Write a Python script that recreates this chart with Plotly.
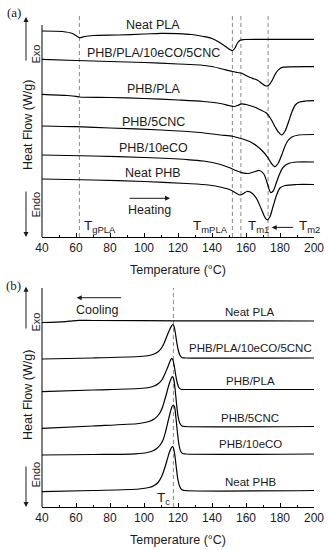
import plotly.graph_objects as go

# ---------------- DATA (a) heating, heat flow in arbitrary offset units ----------------
t_pla_h = [40, 52, 58, 62, 65, 70, 85, 100, 110, 120, 128, 135, 140, 144, 148, 150.5, 152, 153.5, 155, 156.5, 159, 170, 200]
v_pla_h = [206, 205.5, 203.5, 199.3, 200.5, 201.5, 202, 203, 203.7, 203.4, 202.5, 200.5, 198.5, 195, 190.5, 187.5, 186.3, 189, 194, 196.7, 197.5, 197.7, 197.7]

t_blend_h = [40, 60, 80, 100, 120, 133, 140, 146, 152, 155, 157.5, 160, 162.5, 165, 167, 169, 171, 172.2, 173.5, 175, 176.5, 178, 180, 182, 186, 200]
v_blend_h = [177.7, 176.5, 175.5, 174.5, 173, 172, 170.5, 168, 165.5, 164.5, 163.7, 161.5, 159.5, 158, 156.5, 154, 151.5, 151, 152, 155.5, 160.5, 165, 168.5, 169.8, 170.2, 170.3]

t_phbpla_h = [40, 55, 60, 62, 80, 100, 120, 135, 145, 150, 153, 155, 157.5, 160, 164, 168, 172, 175, 177, 179, 181, 183, 185, 187, 189, 191.5, 195, 200]
v_phbpla_h = [142.7, 141.5, 140.7, 140, 139.5, 138.5, 137, 135.5, 133.5, 131.5, 130.5, 131.5, 133.2, 132.5, 130.5, 127.5, 124, 117, 110.5, 105, 102, 106, 115, 125, 132, 135, 136, 136.3]

t_cnc_h = [40, 60, 80, 110, 133, 145, 152.5, 158, 162.4, 166, 170, 173, 175, 177, 179, 181, 182.5, 184.5, 187, 191, 200]
v_cnc_h = [111, 110.3, 109, 107, 104.5, 102, 100.5, 98, 95.3, 91.5, 85.5, 79, 73.5, 70.3, 74, 82, 89, 96, 100, 102, 102.5]

t_eco_h = [40, 70, 100, 125, 135, 145, 150, 154, 158, 161.3, 164.5, 168, 170.5, 172.5, 174.5, 176, 178, 180, 182, 185, 190, 200]
v_eco_h = [82, 81, 79.5, 77.5, 76, 72.5, 69.5, 66.5, 64.2, 63.5, 65, 66.5, 63, 54, 44.5, 46, 55, 64, 70, 73.5, 75, 75]

t_phb_h = [40, 70, 100, 125, 138, 146, 151, 154, 156.8, 158.5, 160.5, 163, 166, 169, 171, 172.5, 174, 176, 178, 180, 183, 190, 200]
v_phb_h = [58, 57, 55.5, 53.5, 52, 49.5, 47, 44, 42, 43.5, 45.5, 44.5, 39, 28, 20, 17, 20, 31, 42, 49, 51.5, 52.5, 52.5]

# ---------------- DATA (b) cooling ----------------
t_pla_c = [40, 48, 54, 58, 62, 70, 120, 200]
v_pla_c = [184.5, 184.8, 185.4, 186.2, 186.6, 186.5, 186.2, 186]

t_blend_c = [40, 70, 97, 103, 106, 108.5, 110.5, 112, 113.5, 115, 116.2, 116.9, 117.6, 118.4, 119.3, 120.2, 121.2, 122.5, 124.5, 200]
v_blend_c = [148, 149, 150.5, 151.5, 153, 155.5, 159.5, 164.5, 171, 177, 181.2, 182.5, 181, 174.5, 164.5, 156.5, 151.5, 149.3, 149, 149]

t_phbpla_c = [40, 70, 97, 103, 106, 108.5, 110.5, 112, 113.5, 114.8, 115.7, 116.3, 117, 117.8, 118.7, 119.6, 120.5, 121.8, 124, 200]
v_phbpla_c = [115.3, 117, 118.5, 119.5, 121, 123.5, 127, 132, 138, 143.5, 147.2, 148.7, 147, 141, 131.5, 124, 119.5, 117.7, 117.5, 117.5]

t_cnc_c = [40, 70, 97, 103, 106, 108.5, 110.5, 112, 113.5, 114.8, 116, 116.7, 117.4, 118.2, 119.1, 120, 121, 122.3, 124, 200]
v_cnc_c = [78.7, 81, 83.5, 85.5, 88, 92, 98, 106, 115, 123, 128.5, 130.3, 128.5, 119, 104, 91, 84, 81, 80.5, 80.5]

t_eco_c = [40, 70, 95, 102, 105, 107.5, 109.5, 111.3, 112.8, 114.2, 115.5, 116.5, 117.3, 118, 118.8, 119.7, 120.6, 121.5, 122.7, 124.5, 200]
v_eco_c = [52, 52.5, 53.2, 54.5, 56, 58.5, 62, 67.5, 76, 86, 95, 100.5, 102, 100, 89, 74, 62, 56, 53.5, 53, 53]

t_phb_c = [40, 70, 97, 103, 106, 108.5, 110.5, 112, 113.5, 114.8, 116, 116.7, 117.4, 118.2, 119.1, 120, 121, 122.3, 124, 200]
v_phb_c = [15.3, 16.5, 18, 19.5, 21.5, 25, 31, 38, 46.5, 54, 59, 60.3, 58.5, 51, 38, 27, 20.5, 17.2, 16.5, 16.5]

series_names = ["Neat PLA", "PHB/PLA/10eCO/5CNC", "PHB/PLA", "PHB/5CNC", "PHB/10eCO", "Neat PHB"]
heat_series = [(t_pla_h, v_pla_h), (t_blend_h, v_blend_h), (t_phbpla_h, v_phbpla_h),
               (t_cnc_h, v_cnc_h), (t_eco_h, v_eco_h), (t_phb_h, v_phb_h)]
cool_series = [(t_pla_c, v_pla_c), (t_blend_c, v_blend_c), (t_phbpla_c, v_phbpla_c),
               (t_cnc_c, v_cnc_c), (t_eco_c, v_eco_c), (t_phb_c, v_phb_c)]

heat_label_y = [212, 183.7, 147.7, 115.3, 89.3, 64.3]
cool_label_y = [194.7, 158.7, 126.3, 88.7, 63, 25.3]

heat_dashed = [62, 152, 157, 173]
cool_dashed = [117.3]

x_ticks = [40, 60, 80, 100, 120, 140, 160, 180, 200]

# ---------------- FIGURE ----------------
FONT = "Liberation Sans, Arial, sans-serif"
TXT = "#1a1a1a"
fig = go.Figure()

for (t, v), n in zip(heat_series, series_names):
    fig.add_trace(go.Scatter(x=t, y=v, mode="lines", name=n, xaxis="x", yaxis="y",
                             line=dict(color="black", width=1.2, shape="spline", smoothing=0.8),
                             showlegend=False, hoverinfo="skip"))
for (t, v), n in zip(cool_series, series_names):
    fig.add_trace(go.Scatter(x=t, y=v, mode="lines", name=n, xaxis="x2", yaxis="y2",
                             line=dict(color="black", width=1.2, shape="spline", smoothing=0.8),
                             showlegend=False, hoverinfo="skip"))

shapes = []
for xv in heat_dashed:
    shapes.append(dict(type="line", xref="x", yref="y", x0=xv, x1=xv, y0=0, y1=222,
                       line=dict(color="#8a8a8a", width=1, dash="4px,3px"), layer="below"))
for xv in cool_dashed:
    shapes.append(dict(type="line", xref="x2", yref="y2", x0=xv, x1=xv, y0=0, y1=219,
                       line=dict(color="#8a8a8a", width=1, dash="4px,3px"), layer="below"))
# left axis lines
shapes.append(dict(type="line", xref="x domain", yref="y", x0=0, x1=0, y0=0, y1=212,
                   line=dict(color="black", width=1)))
shapes.append(dict(type="line", xref="x2 domain", yref="y2", x0=0, x1=0, y0=0, y1=219,
                   line=dict(color="black", width=1)))

C = dict(xanchor="center", yanchor="middle")
ann = []
for n, yv in zip(series_names, heat_label_y):
    ann.append(dict(x=105.3, y=yv, xref="x", yref="y", text=n, showarrow=False, **C,
                    font=dict(family=FONT, size=12.5, color=TXT)))
for n, yv in zip(series_names, cool_label_y):
    ann.append(dict(x=162.4, y=yv, xref="x2", yref="y2", text=n, showarrow=False, **C,
                    font=dict(family=FONT, size=11.5, color=TXT)))

# heating / cooling arrows and labels
ann.append(dict(x=115.3, y=38.7, xref="x", yref="y", ax=-42, ay=0, text="", showarrow=True,
                arrowhead=2, arrowsize=1, arrowwidth=1, arrowcolor=TXT))
ann.append(dict(x=103, y=27, xref="x", yref="y", text="Heating", showarrow=False, **C,
                font=dict(family=FONT, size=12.5, color=TXT)))
ann.append(dict(x=60.4, y=209.3, xref="x2", yref="y2", ax=46, ay=0, text="", showarrow=True,
                arrowhead=2, arrowsize=1, arrowwidth=1, arrowcolor=TXT))
ann.append(dict(x=72.6, y=197, xref="x2", yref="y2", text="Cooling", showarrow=False, **C,
                font=dict(family=FONT, size=12.5, color=TXT)))

# transition labels
tf = dict(family=FONT, size=13.5, color=TXT)
ann.append(dict(x=63.8, y=10.3, xref="x", yref="y", text="T<sub>gPLA</sub>", showarrow=False,
                xanchor="left", yanchor="middle", font=tf))
ann.append(dict(x=150.8, y=10.3, xref="x", yref="y", text="T<sub>mPLA</sub>", showarrow=False,
                xanchor="right", yanchor="middle", font=tf))
ann.append(dict(x=160.2, y=10.3, xref="x", yref="y", text="T<sub>m1</sub>", showarrow=False,
                xanchor="left", yanchor="middle", font=tf))
ann.append(dict(x=175.1, y=9.6, xref="x", yref="y", ax=23, ay=0, text="", showarrow=True,
                arrowhead=2, arrowsize=1, arrowwidth=1, arrowcolor=TXT))
ann.append(dict(x=190.2, y=10.3, xref="x", yref="y", text="T<sub>m2</sub>", showarrow=False,
                xanchor="left", yanchor="middle", font=tf))
ann.append(dict(x=116.6, y=8.7, xref="x2", yref="y2", text="T<sub>c</sub>", showarrow=False,
                xanchor="right", yanchor="middle", font=tf))

# y-axis side labels (paper coords)
def px(xpix):
    return (xpix - 42) / 272.0

def py(ypix):
    return (507 - ypix) / 492.0

for yc in (125, 395):
    ann.append(dict(x=px(28), y=py(yc), xref="paper", yref="paper", text="Heat Flow (W/g)",
                    textangle=-90, showarrow=False, **C, font=dict(family=FONT, size=12.5, color=TXT)))
for yc in (54, 322):
    ann.append(dict(x=px(35.5), y=py(yc), xref="paper", yref="paper", text="Exo",
                    textangle=-90, showarrow=False, **C, font=dict(family=FONT, size=11, color=TXT)))
for yc in (205, 475):
    ann.append(dict(x=px(35.5), y=py(yc), xref="paper", yref="paper", text="Endo",
                    textangle=-90, showarrow=False, **C, font=dict(family=FONT, size=11, color=TXT)))
# exo/endo arrows
for tip, tail in ((17, 62), (286.7, 330)):
    ann.append(dict(x=px(26), y=py(tip), xref="paper", yref="paper", ax=0, ay=tail - tip,
                    text="", showarrow=True, arrowhead=2, arrowsize=1, arrowwidth=1, arrowcolor=TXT))
for tip, tail in ((237, 190), (507, 465)):
    ann.append(dict(x=px(26), y=py(tip), xref="paper", yref="paper", ax=0, ay=tail - tip,
                    text="", showarrow=True, arrowhead=2, arrowsize=1, arrowwidth=1, arrowcolor=TXT))

# x titles
for yc in (270, 540):
    ann.append(dict(x=px(178), y=py(yc), xref="paper", yref="paper", text="Temperature (°C)",
                    showarrow=False, **C, font=dict(family=FONT, size=12.5, color=TXT)))
# panel labels
ann.append(dict(x=px(14), y=py(13), xref="paper", yref="paper", text="(a)", showarrow=False, **C,
                font=dict(family="Liberation Serif, Times New Roman, serif", size=13, color=TXT)))
ann.append(dict(x=px(13), y=py(285), xref="paper", yref="paper", text="(b)", showarrow=False, **C,
                font=dict(family="Liberation Serif, Times New Roman, serif", size=13, color=TXT)))

xax = dict(range=[40, 200], tickvals=x_ticks, ticks="inside", ticklen=4, tickwidth=1,
           tickcolor="black", showline=True, linecolor="black", linewidth=1, showgrid=False,
           zeroline=False, automargin=False, tickfont=dict(family=FONT, size=12, color=TXT),
           minor=dict(dtick=10, ticks="inside", ticklen=2, tickcolor="black", showgrid=False))
yax = dict(range=[0, 222], showticklabels=False, ticks="", showline=False, showgrid=False,
           zeroline=False, automargin=False)

fig.update_layout(
    width=329, height=550,
    margin=dict(l=42, r=15, t=15, b=43, pad=0, autoexpand=False),
    paper_bgcolor="white", plot_bgcolor="white",
    xaxis=dict(**xax, domain=[0, 1], anchor="y"),
    yaxis=dict(**yax, domain=[0.54878, 1.0], anchor="x"),
    xaxis2=dict(**xax, domain=[0, 1], anchor="y2"),
    yaxis2=dict(**yax, domain=[0.0, 0.45122], anchor="x2"),
    shapes=shapes, annotations=ann, showlegend=False,
)

fig.write_html("out.html", config={"displayModeBar": False},
               post_script="document.body.style.margin='0';document.body.style.overflow='hidden';")
